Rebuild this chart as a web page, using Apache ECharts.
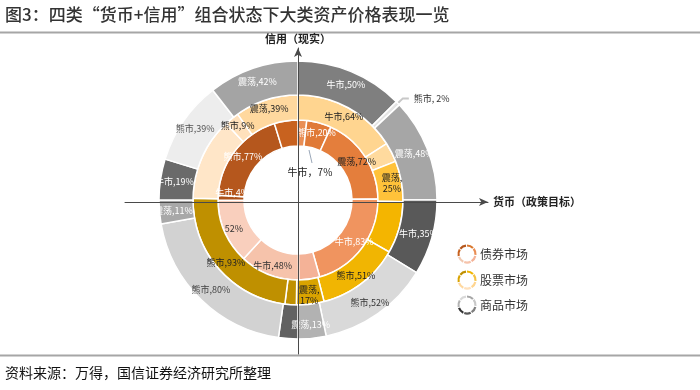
<!DOCTYPE html>
<html>
<head>
<meta charset="utf-8">
<script src="https://cdn.jsdelivr.net/npm/echarts@6/dist/echarts.min.js"></script>
<style>
html,body{margin:0;padding:0;background:#fff;}
#chart{width:700px;height:390px;}
</style>
</head>
<body>
<div id="chart"></div>
<script>
// ---------- data ----------
const titleText = '图3：四类“货币+信用”组合状态下大类资产价格表现一览';
const sourceText = '资料来源：万得，国信证券经济研究所整理';
const xAxisName = '货币（政策目标）';
const yAxisName = '信用（现实）';
const marketNames = ['债券市场', '股票市场', '商品市场'];
const states = ['牛市', '熊市', '震荡'];
// quadrants in clockwise order starting at 12 o'clock: upper-right, lower-right, lower-left, upper-left
// each row: [牛市, 熊市, 震荡] in % (0 = not present)
const bondValues      = [[7, 20, 72], [83, 0, 17], [48, 52, 0], [4, 77, 19]];
const stockValues     = [[64, 12, 25], [32, 51, 17], [7, 93, 0], [51, 9, 39]];
const commodityValues = [[50, 2, 48], [35, 52, 13], [9, 80, 11], [19, 39, 42]];
// label quirks (which labels hide the state name / wrap)
const bondUnnamed = [[2, 1]];
const wrapped = {bond: [[3, 2]], stock: [[0, 2], [1, 2]], commodity: []};

// ---------- styles ----------
const bondColors = [
  ['#E98E55', '#E07A38', '#E47E3C'],
  ['#F0945F', null, '#F4B297'],
  ['#F6C3AB', '#F9CFBD', null],
  ['#AC5119', '#B5571D', '#C8621F']
];
const stockColors = [
  ['#FFD590', '#FFDA9E', '#FFC23A'],
  ['#F4B500', '#F1B502', '#D9A300'],
  ['#C09000', '#BF9000', null],
  ['#FFE6C8', '#FFE1BC', '#FFD89E']
];
const commodityColors = [
  ['#7F7F7F', '#E4E4E4', '#A6A6A6'],
  ['#595959', '#D9D9D9', '#B2B2B2'],
  ['#616161', '#D2D2D2', '#A8A8A8'],
  ['#6A6A6A', '#EDEDED', '#A4A4A4']
];
const bondLabelColors = [
  ['#222', '#fff', '#222'], ['#fff', '#fff', '#fff'], ['#333', '#333', '#333'], ['#fff', '#fff', '#fff']
];
const stockLabelColors = [
  ['#222', '#222', '#222'], ['#222', '#222', '#222'], ['#222', '#222', '#222'], ['#222', '#222', '#222']
];
const commodityLabelColors = [
  ['#fff', '#333', '#fff'], ['#fff', '#333', '#fff'], ['#fff', '#444', '#fff'], ['#fff', '#555', '#fff']
];
const labelOffsets = {bond: [[3, 0, [4, -5]]], stock: [], commodity: []};

const FONT = '"Noto Sans CJK SC", "Microsoft YaHei", sans-serif';

function inList(list, q, s) {
  return list.some(p => p[0] === q && p[1] === s);
}

function buildData(values, colors, labelColors, key, opts) {
  const out = [];
  values.forEach((row, q) => {
    row.forEach((v, s) => {
      if (!v) return;
      const unnamed = opts.unnamed && inList(opts.unnamed, q, s);
      const wrap = inList(wrapped[key], q, s);
      let text = unnamed ? v + '%' : states[s] + ',' + (wrap ? '\n' : '') + v + '%';
      const item = {
        name: states[s] + '-' + q,
        value: v,
        itemStyle: {color: colors[q][s]},
        label: {color: labelColors[q][s], formatter: text}
      };
      const off = labelOffsets[key].find(p => p[0] === q && p[1] === s);
      if (off) item.label.offset = off[2];
      if (opts.hidden && inList(opts.hidden, q, s)) {
        item.label.show = false;
      }
      if (opts.outside && inList(opts.outside, q, s)) {
        item.label = {
          show: true, position: 'outside', color: '#333',
          formatter: states[s] + ', ' + v + '%', fontSize: 9
        };
        item.labelLine = {show: true, length: 7, length2: 6,
          lineStyle: {color: '#C8C8C8', width: 2}};
      }
      out.push(item);
    });
  });
  return out;
}

function ring(name, radius, data) {
  return {
    type: 'pie', name: name,
    center: [298, 200], radius: radius,
    startAngle: 90, clockwise: true,
    avoidLabelOverlap: false,
    silent: true, animation: false,
    z: 2,
    itemStyle: {borderColor: '#fff', borderWidth: 1.5},
    label: {show: true, position: 'inside', fontSize: 9, fontFamily: FONT, lineHeight: 11},
    labelLine: {show: false},
    emphasis: {disabled: true},
    data: data
  };
}

const bondData = buildData(bondValues, bondColors, bondLabelColors, 'bond',
  {unnamed: bondUnnamed, hidden: [[0, 0]]});
const stockData = buildData(stockValues, stockColors, stockLabelColors, 'stock', {});
const commodityData = buildData(commodityValues, commodityColors, commodityLabelColors, 'commodity',
  {outside: [[0, 1]]});

// legend ring icons
function legendIcon(cx, cy, cols) {
  const els = [];
  const n = cols.length;
  const step = Math.PI * 2 / n;
  for (let i = 0; i < n; i++) {
    els.push({
      type: 'arc',
      shape: {cx: cx, cy: cy, r: 8.5, startAngle: -Math.PI / 2 + i * step, endAngle: -Math.PI / 2 + (i + 1) * step - 0.12},
      style: {stroke: cols[i], lineWidth: 2.2, fill: null}
    });
  }
  return els;
}
const legendIconColors = [
  ['#D9782F', '#E98E55', '#F4B297', '#F6C3AB', '#F0C8B0', '#C8621F', '#B5571D'],
  ['#F1B502', '#F4C242', '#FFD590', '#FFE1BC', '#FFD89E', '#D9A300', '#BF9000'],
  ['#A6A6A6', '#C8C8C8', '#7F7F7F', '#595959', '#333333', '#B2B2B2', '#D9D9D9']
];
const legendY = [254, 280, 305];

const graphics = [
  {type: 'text', left: 5, top: 6, style: {text: titleText, font: '500 17px ' + FONT, fill: '#333'}},
  {type: 'line', shape: {x1: 0, y1: 32.5, x2: 700, y2: 32.5}, style: {stroke: '#A6A6A6', lineWidth: 2}},
  {type: 'line', shape: {x1: 0, y1: 355.5, x2: 700, y2: 355.5}, style: {stroke: '#A6A6A6', lineWidth: 2}},
  {type: 'text', left: 5, top: 366, style: {text: sourceText, font: '14px ' + FONT, fill: '#111'}},
  // label for the thin bond slice, placed inside the hole with a leader line
  {type: 'line', z: 20, shape: {x1: 309, y1: 150, x2: 312, y2: 163}, style: {stroke: '#9AA7B8', lineWidth: 1}},
  {type: 'text', z: 20, x: 310, y: 172, style: {
    text: states[0] + '，' + bondValues[0][0] + '%', font: '10px ' + FONT, fill: '#222',
    textAlign: 'center', textVerticalAlign: 'middle'}}
];
marketNames.forEach((m, i) => {
  legendIcon(467, legendY[i], legendIconColors[i]).forEach(e => graphics.push(e));
  graphics.push({type: 'text', x: 480, y: legendY[i], style: {
    text: m, font: '12px ' + FONT, fill: '#333', textVerticalAlign: 'middle'}});
});

const axisCommon = {
  type: 'value',
  z: 10,
  axisTick: {show: false},
  axisLabel: {show: false},
  splitLine: {show: false},
  nameLocation: 'end',
  nameTextStyle: {fontSize: 11, fontWeight: 'bold', color: '#222', fontFamily: FONT}
};

const option = {
  backgroundColor: '#fff',
  animation: false,
  grid: {left: 125, right: 212, top: 48, bottom: 36},
  xAxis: Object.assign({}, axisCommon, {
    min: -173, max: 190, name: xAxisName, nameGap: 5,
    axisLine: {show: true, onZero: true, symbol: ['none', 'arrow'], symbolSize: [6, 9],
      lineStyle: {color: '#4A4A4A', width: 1}}
  }),
  yAxis: Object.assign({}, axisCommon, {
    min: -152, max: 154, name: yAxisName, nameGap: 4,
    axisLine: {show: true, onZero: true, symbol: ['none', 'arrow'], symbolSize: [6, 9],
      lineStyle: {color: '#4A4A4A', width: 1}}
  }),
  series: [
    ring(marketNames[0], [54, 80], bondData),
    ring(marketNames[1], [80, 105], stockData),
    ring(marketNames[2], [105, 139], commodityData)
  ],
  graphic: graphics
};

const chart = echarts.init(document.getElementById('chart'), null, {renderer: 'canvas'});
chart.setOption(option);
</script>
</body>
</html>
